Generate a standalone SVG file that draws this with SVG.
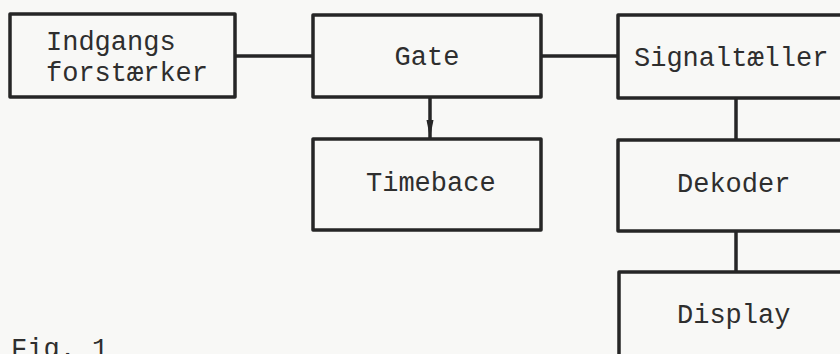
<svg xmlns="http://www.w3.org/2000/svg" width="840" height="354" viewBox="0 0 840 354">
<defs>
<style>
.box{fill:#f8f8f6;stroke:#262626;stroke-width:3.5;stroke-linejoin:round}
.lbl{font-family:"Liberation Mono","Courier New",monospace;font-size:27px;fill:#2e2e2e}
.con{stroke:#262626;stroke-width:3.5;fill:none}
</style>
<marker id="arr" viewBox="0 0 18 8" refX="18" refY="4" markerWidth="18" markerHeight="8" markerUnits="userSpaceOnUse" orient="auto">
<path d="M0,0.5 L18,4 L0,7.5 Z" fill="#262626"/>
</marker>
</defs>
<rect x="0" y="0" width="840" height="354" fill="#f8f8f6"/>
<g id="connectors">
<line class="con" x1="235" y1="56" x2="313" y2="56"/>
<line class="con" x1="541" y1="56" x2="618" y2="56"/>
<line class="con" x1="430" y1="97" x2="430" y2="138" marker-end="url(#arr)"/>
<line class="con" x1="736" y1="98" x2="736" y2="140"/>
<line class="con" x1="736" y1="231" x2="736" y2="272"/>
</g>
<g id="indgangs">
<rect class="box" x="10" y="14" width="225" height="83"/>
<text class="lbl" x="46" y="50">Indgangs</text>
<text class="lbl" x="46" y="81">forstærker</text>
</g>
<g id="gate">
<rect class="box" x="313" y="15" width="228" height="82"/>
<text class="lbl" x="427" y="65" text-anchor="middle">Gate</text>
</g>
<g id="signaltaeller">
<rect class="box" x="618" y="15" width="250" height="83"/>
<text class="lbl" x="634" y="66">Signaltæller</text>
</g>
<g id="timebace">
<rect class="box" x="313" y="139" width="228" height="91"/>
<text class="lbl" x="366" y="191">Timebace</text>
</g>
<g id="dekoder">
<rect class="box" x="618" y="140" width="250" height="91"/>
<text class="lbl" x="677" y="192">Dekoder</text>
</g>
<g id="display">
<rect class="box" x="619" y="272" width="250" height="110"/>
<text class="lbl" x="677" y="323">Display</text>
</g>
<text class="lbl" x="11" y="357">Fig. 1</text>
</svg>
